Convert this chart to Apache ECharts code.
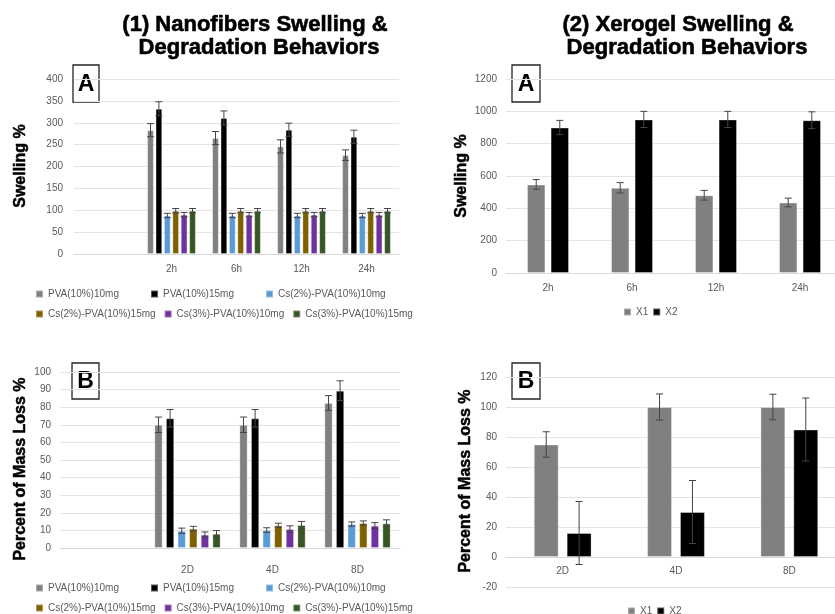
<!DOCTYPE html>
<html>
<head>
<meta charset="utf-8">
<script src="https://cdn.jsdelivr.net/npm/echarts@6/dist/echarts.min.js"></script>
<style>
  html, body { margin: 0; padding: 0; background: #fff; }
  #chart { width: 835px; height: 614px; }
</style>
</head>
<body>
<div id="chart"></div>
<script>
// ---- data ----
const nanoNames = ['PVA(10%)10mg', 'PVA(10%)15mg', 'Cs(2%)-PVA(10%)10mg',
  'Cs(2%)-PVA(10%)15mg', 'Cs(3%)-PVA(10%)10mg', 'Cs(3%)-PVA(10%)15mg'];
const nanoColors = ['#808080', '#000000', '#5b9bd5', '#7f6000', '#7030a0', '#375623'];

// first category is an empty slot, as in the original sheet
const nanoHours = ['', '2h', '6h', '12h', '24h'];
const nanoSwell = [
  [null, 283, 265, 246, 226],
  [null, 332, 311, 284, 268],
  [null, 88, 88, 88, 88],
  [null, 99, 99, 99, 99],
  [null, 90, 90, 90, 90],
  [null, 99, 99, 99, 99]
];
const nanoSwellErr = [
  [null, 15, 15, 15, 12],
  [null, 16, 16, 15, 15],
  [null, 5, 5, 5, 5],
  [null, 5, 5, 5, 5],
  [null, 5, 5, 5, 5],
  [null, 5, 5, 5, 5]
];

const nanoDays = ['', '2D', '4D', '8D'];
const nanoDeg = [
  [null, 70, 70, 82.4],
  [null, 73.7, 73.7, 89.4],
  [null, 9.8, 10.2, 13.6],
  [null, 11, 12.9, 14.2],
  [null, 7.6, 10.8, 12.7],
  [null, 8.1, 13.1, 14]
];
const nanoDegErr = [
  [null, 4.4, 4.4, 4.2],
  [null, 5, 5, 5.6],
  [null, 1.5, 1.3, 1.2],
  [null, 1.3, 1.2, 1.2],
  [null, 1.5, 1.8, 1.7],
  [null, 1.8, 2, 2]
];

const xeroNames = ['X1', 'X2'];
const xeroColors = ['#808080', '#000000'];
const xeroHours = ['2h', '6h', '12h', '24h'];
const xeroSwell = [[548, 527, 481, 436], [900, 950, 950, 945]];
const xeroSwellErr = [[30, 32, 30, 27], [44, 50, 50, 52]];
const xeroDays = ['2D', '4D', '8D'];
const xeroDeg = [[75, 100, 100], [16, 30, 85]];
const xeroDegErr = [[8.5, 8.7, 8.5], [21, 21, 21]];

// ---- build ----
const FONT = "'Liberation Sans', Arial, sans-serif";
const LABEL = '#595959';

let grids = [
  { left: 74, top: 79, width: 325, height: 175 },
  { left: 60, top: 372, width: 340, height: 176 },
  { left: 506, top: 79, width: 336, height: 194 },
  { left: 506, top: 377, width: 340, height: 210 }
];
grids.forEach(g => { g.outerBoundsMode = 'none'; });

let xAxes = [];
let yAxes = [];
let series = [];

function addPanel(idx, cats, names, colors, vals, errs, gap, catGap, yRange, xMargin, yMargin, xOffset) {
  xAxes.push({
    gridIndex: idx, type: 'category', data: cats,
    offset: xOffset,
    axisTick: { show: false },
    axisLine: { show: true, onZero: false, lineStyle: { color: '#d9d9d9' } },
    axisLabel: { color: LABEL, fontSize: 10, fontFamily: FONT, margin: xMargin, interval: 0 }
  });
  yAxes.push({
    gridIndex: idx, type: 'value', min: yRange[0], max: yRange[1], interval: yRange[2],
    axisLine: { show: false }, axisTick: { show: false },
    splitLine: { lineStyle: { color: '#e4e4e4', width: 1 } },
    axisLabel: { color: LABEL, fontSize: 10, fontFamily: FONT, margin: yMargin,
      formatter: v => String(v) }
  });
  names.forEach((nm, i) => {
    series.push({
      type: 'bar', name: nm, xAxisIndex: idx, yAxisIndex: idx,
      data: vals[i],
      barGap: (gap * 100) + '%',
      barCategoryGap: (catGap * 100) + '%',
      itemStyle: { color: colors[i], borderColor: 'rgba(255,255,255,0.35)', borderWidth: 1 }
    });
  });
  let errData = [];
  vals.forEach((arr, i) => {
    arr.forEach((v, c) => {
      if (v != null) errData.push([c, v, errs[i][c], i]);
    });
  });
  const n = names.length;
  series.push({
    type: 'custom', name: 'err' + idx, xAxisIndex: idx, yAxisIndex: idx,
    data: errData, encode: { x: 0, y: 1 }, z: 5, silent: true,
    renderItem: function (params, api) {
      const c = api.value(0), v = api.value(1), e = api.value(2), s = api.value(3);
      const catW = api.size([1, 0])[0];
      const groupW = catW * (1 - catGap);
      const bw = groupW / (n + (n - 1) * gap);
      const center = api.coord([c, v])[0];
      const x = center - groupW / 2 + s * bw * (1 + gap) + bw / 2;
      const top = api.coord([c, v + e])[1];
      const bot = api.coord([c, v - e])[1];
      const h = 3.5;
      const st = { stroke: '#454545', lineWidth: 1 };
      return {
        type: 'group',
        children: [
          { type: 'line', shape: { x1: x, y1: top, x2: x, y2: bot }, style: st },
          { type: 'line', shape: { x1: x - h, y1: top, x2: x + h, y2: top }, style: st },
          { type: 'line', shape: { x1: x - h, y1: bot, x2: x + h, y2: bot }, style: st }
        ]
      };
    }
  });
}

addPanel(0, nanoHours, nanoNames, nanoColors, nanoSwell, nanoSwellErr, 0.25, 0.25, [0, 400, 50], 10, 11, 0);
addPanel(1, nanoDays, nanoNames, nanoColors, nanoDeg, nanoDegErr, 0.4, 0.22, [0, 100, 10], 17, 9, 0);
addPanel(2, xeroHours, xeroNames, xeroColors, xeroSwell, xeroSwellErr, 0.28, 0.5, [0, 1200, 200], 10, 9, 0);
// x axis of the last panel sits on the zero line (30 px above the -20 bottom)
addPanel(3, xeroDays, xeroNames, xeroColors, xeroDeg, xeroDegErr, 0.32, 0.49, [-20, 120, 20], 9, 9, -30);

const legendText = { color: LABEL, fontSize: 10, fontFamily: FONT, lineHeight: 12 };
let legends = [
  { data: nanoNames, left: 35, top: 288, width: 420, itemGap: 8,
    textStyle: Object.assign({ width: 94 }, legendText) },
  { data: nanoNames, left: 35, top: 582, width: 420, itemGap: 8,
    textStyle: Object.assign({ width: 94 }, legendText) },
  { data: xeroNames, left: 623, top: 306, itemGap: 4, textStyle: legendText },
  { data: xeroNames, left: 627, top: 605, itemGap: 4, textStyle: legendText }
];
legends.forEach(l => {
  l.icon = 'rect'; l.itemWidth = 7; l.itemHeight = 7; l.selectedMode = false;
  l.padding = 0;
});

function heading(text, x, y) {
  return {
    type: 'text', x: x, y: y, z: 10,
    style: { text: text, fill: '#000', font: 'bold 22px ' + FONT,
      textAlign: 'center', textVerticalAlign: 'middle',
      stroke: '#000', lineWidth: 0.6 }
  };
}
function axisTitle(text, x, y) {
  return {
    type: 'text', x: x, y: y, rotation: Math.PI / 2, z: 10,
    style: { text: text, fill: '#000', font: 'bold 16px ' + FONT,
      textAlign: 'center', textVerticalAlign: 'middle',
      stroke: '#000', lineWidth: 0.5 }
  };
}
function tag(letter, x, y, w, h) {
  return {
    type: 'group', z: 10,
    children: [
      { type: 'rect', shape: { x: x, y: y, width: w, height: h },
        style: { fill: '#fff', stroke: '#262626', lineWidth: 1.3 } },
      { type: 'text', x: x + w / 2, y: y + h / 2 + 1,
        style: { text: letter, fill: '#000', font: 'bold 23px ' + FONT,
          textAlign: 'center', textVerticalAlign: 'middle' } }
    ]
  };
}

const option = {
  animation: false,
  backgroundColor: '#fff',
  grid: grids,
  xAxis: xAxes,
  yAxis: yAxes,
  legend: legends,
  series: series,
  graphic: [
    heading('(1) Nanofibers Swelling &', 255, 25),
    heading('Degradation Behaviors', 259, 48),
    heading('(2) Xerogel Swelling &', 678, 25),
    heading('Degradation Behaviors', 687, 48),
    axisTitle('Swelling %', 21, 166),
    axisTitle('Swelling %', 462, 176),
    axisTitle('Percent of Mass Loss %', 21, 469),
    axisTitle('Percent of Mass Loss %', 466, 481),
    tag('A', 73, 65, 26, 37),
    tag('A', 512, 65, 28, 37),
    tag('B', 72, 363, 27, 36),
    tag('B', 512, 363, 28, 36)
  ]
};

const chart = echarts.init(document.getElementById('chart'));
chart.setOption(option);
</script>
</body>
</html>
